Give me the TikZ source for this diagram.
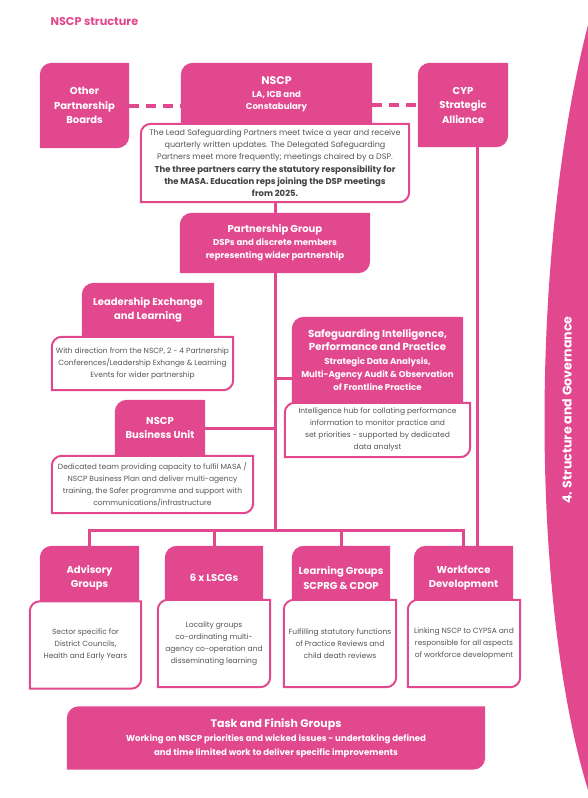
\documentclass[tikz,border=0pt]{standalone}
\usepackage{fontspec}
\setmainfont{Poppins}
\usetikzlibrary{backgrounds}
\definecolor{pinkc}{RGB}{226,72,142}
\definecolor{bodyc}{RGB}{85,85,85}
\definecolor{darkc}{RGB}{65,65,65}
\newcommand{\tlbrshape}[3]{\path[#2] ([xshift=#3]#1.north west) -- (#1.north east) -- ([yshift=#3]#1.south east) to[out=-90,in=0] ([xshift=-#3]#1.south east) -- (#1.south west) -- ([yshift=-#3]#1.north west) to[out=90,in=180] ([xshift=#3]#1.north west) -- cycle;}
\newcommand{\tlshape}[3]{\path[#2] ([xshift=#3]#1.north west) -- (#1.north east) -- (#1.south east) -- (#1.south west) -- ([yshift=-#3]#1.north west) to[out=90,in=180] ([xshift=#3]#1.north west) -- cycle;}
\newcommand{\hdf}{\fontsize{10}{14.5}\selectfont\bfseries}
\newcommand{\hdfb}{\fontsize{10.2}{16}\selectfont\bfseries}
\newcommand{\sbf}{\fontsize{8.6}{13}\selectfont\bfseries}
\newcommand{\bdf}{\fontsize{7.5}{12}\selectfont}
\newcommand{\bdb}[1]{{\fontsize{8.5}{12.2}\selectfont\bfseries\color{darkc}#1}}
\begin{document}
\begin{tikzpicture}[x=1pt, y=-1pt,
  box/.style={inner sep=0pt, align=center},
  ph/.style={box, text=white},
  wt/.style={box, text=bodyc, font=\bdf},
  pinkfill/.style={fill=pinkc},
  whitebox/.style={fill=white, draw=pinkc, line width=2pt},
  conn/.style={draw=pinkc, line width=3pt},
  dashl/.style={draw=pinkc, line width=4pt, dash pattern=on 10pt off 7pt}]
\useasboundingbox (0,0) rectangle (588,798);
% side band
\fill[pinkc] (588,25) .. controls (530,250) and (530,600) .. (588,790) -- cycle;
\node[rotate=90, text=white, font=\fontsize{12.6}{14}\selectfont\bfseries] (side) at (567,410) {4. Structure and Governance};
\node[anchor=west, text=pinkc, font=\fontsize{11.3}{13}\selectfont\bfseries] (title) at (47,22) {NSCP structure};
% top row
\node[ph, font=\hdf, minimum width=89pt, minimum height=85pt] (other) at (84.5,105.5) {Other\\Partnership\\Boards};
\node[ph, font=\fontsize{8.6}{12}\selectfont\bfseries, minimum width=191pt, minimum height=62pt] (nscp) at (276.5,94) {{\fontsize{11}{14}\selectfont\bfseries NSCP}\\[1.5pt]LA, ICB and\\Constabulary};
\node[ph, font=\hdf, minimum width=90pt, minimum height=84pt] (cyp) at (463,105) {CYP\\Strategic\\Alliance};
\node[box, text=bodyc, font=\fontsize{8}{12.2}\selectfont, minimum width=268pt, minimum height=78pt] (nscpw) at (275,163) {The Lead Safeguarding Partners meet twice a year and receive\\quarterly written updates. The Delegated Safeguarding\\Partners meet more frequently; meetings chaired by a DSP.\\\bdb{The three partners carry the statutory responsibility for}\\\bdb{the MASA. Education reps joining the DSP meetings}\\\bdb{from 2025.}};
% partnership group
\node[ph, font=\sbf, minimum width=190pt, minimum height=60pt] (pg) at (275,243) {{\hdf Partnership Group}\\DSPs and discrete members\\representing wider partnership};
% leadership
\node[ph, font=\hdf, minimum width=132pt, minimum height=54pt] (lel) at (148,310) {Leadership Exchange\\and Learning};
\node[wt, minimum width=181pt, minimum height=53pt] (lelw) at (142.5,363.5) {With direction from the NSCP, 2 - 4 Partnership\\Conferences/Leadership Exhange \& Learning\\Events for wider partnership};
% safeguarding
\node[ph, font=\sbf, minimum width=171pt, minimum height=86pt] (sg) at (377.5,360) {{\hdfb Safeguarding Intelligence,}\\{\hdfb Performance and Practice}\\[0.5pt]Strategic Data Analysis,\\Multi-Agency Audit \& Observation\\of Frontline Practice};
\node[wt, minimum width=185pt, minimum height=54pt] (sgw) at (377.5,430) {Intelligence hub for collating performance\\information to monitor practice and\\set priorities - supported by dedicated\\data analyst};
% business unit
\node[ph, font=\hdf, minimum width=90pt, minimum height=56pt] (bu) at (160,428) {NSCP\\Business Unit};
\node[wt, minimum width=201pt, minimum height=57pt] (buw) at (152.5,484.5) {Dedicated team providing capacity to fulfil MASA /\\NSCP Business Plan and deliver multi-agency\\training, the Safer programme and support with\\communications/infrastructure};
% bottom row
\node[ph, font=\hdf, minimum width=99pt, minimum height=64pt] (adv) at (89.5,578) {Advisory\\Groups};
\node[wt, minimum width=111pt, minimum height=87pt] (advw) at (85.5,645) {Sector specific for\\District Councils,\\Health and Early Years};
\node[ph, font=\hdf, minimum width=98pt, minimum height=64pt] (lscg) at (214,578) {6 x LSCGs};
\node[wt, minimum width=112pt, minimum height=87pt] (lscgw) at (214,643.5) {Locality groups\\co-ordinating multi-\\agency co-operation and\\disseminating learning};
\node[ph, font=\hdf, minimum width=98pt, minimum height=64pt] (lg) at (341,578) {Learning Groups\\SCPRG \& CDOP};
\node[wt, minimum width=112pt, minimum height=87pt] (lgw) at (340,643.5) {Fulfilling statutory functions\\of Practice Reviews and\\child death reviews};
\node[ph, font=\hdf, minimum width=99pt, minimum height=64pt] (wf) at (463.5,578) {Workforce\\Development};
\node[wt, minimum width=112pt, minimum height=87pt] (wfw) at (464,643.5) {Linking NSCP to CYPSA and\\responsible for all aspects\\of workforce development};
% task and finish
\node[ph, font=\fontsize{8.6}{14}\selectfont\bfseries, minimum width=418pt, minimum height=63pt] (tf) at (276,738) {{\fontsize{11}{14}\selectfont\bfseries Task and Finish Groups}\\Working on NSCP priorities and wicked issues - undertaking defined\\and time limited work to deliver specific improvements};
% shapes
\begin{scope}[on background layer]
\tlbrshape{other}{pinkfill}{12pt}
\tlshape{nscp}{pinkfill}{12pt}
\tlbrshape{cyp}{pinkfill}{12pt}
\tlbrshape{nscpw}{whitebox}{10pt}
\tlbrshape{pg}{pinkfill}{12pt}
\tlshape{lel}{pinkfill}{12pt}
\tlbrshape{lelw}{whitebox}{10pt}
\tlshape{sg}{pinkfill}{12pt}
\tlbrshape{sgw}{whitebox}{10pt}
\tlshape{bu}{pinkfill}{12pt}
\tlbrshape{buw}{whitebox}{10pt}
\tlshape{adv}{pinkfill}{12pt}
\tlbrshape{advw}{whitebox}{10pt}
\tlshape{lscg}{pinkfill}{12pt}
\tlbrshape{lscgw}{whitebox}{10pt}
\tlshape{lg}{pinkfill}{12pt}
\tlbrshape{lgw}{whitebox}{10pt}
\tlshape{wf}{pinkfill}{12pt}
\tlbrshape{wfw}{whitebox}{10pt}
\tlbrshape{tf}{pinkfill}{12pt}
\end{scope}
% connectors
\coordinate (hub) at (275,530);
\draw[dashl] (other.east) -- (other.east -| nscp.west);
\draw[dashl] (cyp.west -| nscp.east) -- (cyp.west);
\draw[conn] (nscpw.south) -- (pg.north);
\draw[conn] (pg.south) -- (hub);
\draw[conn] ([yshift=-18pt]sg.west) -- ([yshift=-18pt]sg.west -| hub);
\draw[conn] (bu.east) -- (bu.east -| hub);
\draw[conn] (adv.north) -- (adv.north |- hub) -- (wf.north |- hub) -- (wf.north);
\draw[conn] (lscg.north) -- (lscg.north |- hub);
\draw[conn] (lg.north) -- (lg.north |- hub);
\draw[conn] ([xshift=14pt]cyp.south) -- ([xshift=14pt]cyp.south |- wf.north);
\end{tikzpicture}
\end{document}
